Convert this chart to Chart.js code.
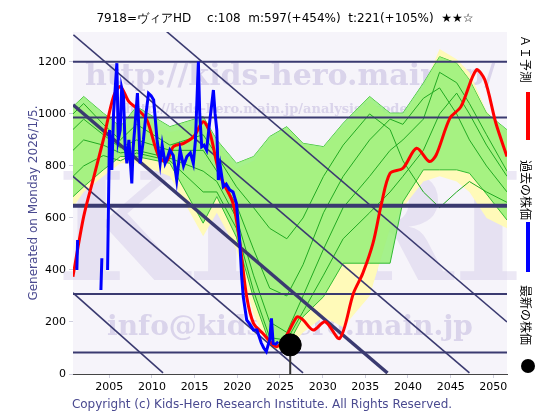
<!DOCTYPE html>
<html><head><meta charset="utf-8">
<script src="https://cdn.jsdelivr.net/npm/chart.js@4"></script>
<style>body{margin:0;background:#fff}#w{width:560px;height:420px}</style>
</head><body><div id="w"><canvas id="c"></canvas></div>
<script>
const xTicks=[2005,2010,2015,2020,2025,2030,2035,2040,2045,2050];
const yTicks=[0,200,400,600,800,1000,1200];
const pastX=[2000.82,null,2001.2,2001.29,null,2002.07,2002.1,null,2004.02,2004.13,null,2004.8,2005.03,2005.15,2005.3,2005.5,2005.89,2006.05,2006.28,2006.45,2006.67,2006.85,2007.06,2007.3,2007.64,2007.8,2008.03,2008.3,2008.62,2009.0,2009.3,2009.6,2009.9,2010.2,2010.6,2010.96,2011.2,2011.54,2011.8,2012.1,2012.5,2012.9,2013.3,2013.7,2014.1,2014.5,2014.85,2015.1,2015.44,2015.6,2015.83,2016.1,2016.4,2016.8,2017.2,2017.4,2017.6,2017.78,2018.0,2018.36,2018.7,2019.1,2019.5,2019.9,2020.3,2020.5,2020.7,2021.1,2021.5,2021.9,2022.3,2022.8,2023.1,2023.4,2023.6,2023.8,2024.0,2024.2,2024.5,2024.8];
const pastY=[310,null,400,515,null,333,333,null,323,445,null,400,938,870,785,1000,1195,900,938,1100,1067,880,810,900,733,870,964,1080,810,900,1000,1079,1070,1054,900,810,880,810,830,861,840,746,861,800,836,850,810,900,1201,1000,874,880,861,980,1092,1000,938,746,800,720,730,708,700,656,503,380,297,208,190,169,169,120,100,86,110,131,214,118,115,124];
const aiX=[2000.74,2002,2003.2,2004.3,2005.5,2006.3,2007.3,2008.2,2009.4,2010.8,2011.7,2012.5,2013.7,2014.9,2016.0,2016.8,2017.6,2018.2,2019.5,2020.3,2021.1,2021.9,2023.0,2024.6,2025.8,2027,2027.7,2028.9,2030.3,2032,2033.6,2034.7,2035.9,2036.9,2037.9,2039.4,2041,2042.5,2043.3,2044.9,2046.2,2048,2049,2050.3,2051.6];
const aiY=[374,605,759,900,1067,1105,1047,1022,977,836,817,874,887,913,970,926,810,746,656,503,297,195,156,105,150,220,208,169,201,137,310,387,503,656,772,791,868,817,842,983,1028,1169,1131,964,836];
const bandX=[2000.75,2002,2004.3,2006.3,2008.2,2012.1,2016.0,2017.6,2019.9,2021.9,2023.8,2025.8,2027.7,2030.1,2032.4,2035.5,2037.9,2039.4,2041.8,2043.7,2045.7,2047.2,2049.2,2051.6];
const greenHi=[1028,1067,1003,951,1028,951,990,900,810,836,913,951,887,874,964,1067,1003,1003,1118,1220,1195,1131,1003,939];
const greenLo=[682,720,785,836,836,810,580,682,526,292,118,105,220,297,426,426,426,662,785,785,785,772,692,592];
const yellowHi=[1010,1040,990,930,1000,930,960,880,790,820,900,940,880,870,950,1050,990,990,1100,1250,1210,1160,1010,930];
const yellowLo=[640,700,760,810,810,760,530,620,480,230,100,90,160,220,180,300,560,640,740,760,740,700,600,560];
const thinA=[1000,1040,960,900,960,880,920,840,720,640,560,520,600,760,880,1000,940,820,700,640,700,740,700,660];
const thinB=[940,980,920,870,900,860,860,780,650,480,330,300,420,620,760,900,980,960,1060,1100,1000,900,800,700];
const thinC=[860,900,880,850,860,830,780,740,600,380,200,160,300,480,640,760,860,900,980,1160,1120,1040,920,780];
const thinD=[760,800,840,820,850,820,700,700,560,320,140,130,240,380,520,620,700,760,860,1000,1080,1000,880,760];
const ballX=[2026.2], ballY=[112];
const hLines=[1201,986,647,308,83];
const diag=[[2000.8,1304,2047.2,4],[2011.5,1323,2051.6,200],[2000.75,1035,2037.6,4],[2000.75,760,2027.7,4],[2000.75,312,2011.3,4]];

const pts=(xs,ys)=>xs.map((x,i)=>({x:x,y:x===null?null:ys[i]}));
const thin=arr=>({data:pts(bandX,arr),borderColor:'#22aa22',borderWidth:1,pointRadius:0,fill:false,tension:0});
const ds=[
 {data:pts(bandX,yellowHi),borderWidth:0,pointRadius:0,fill:false},
 {data:pts(bandX,yellowLo),borderWidth:0,pointRadius:0,fill:'-1',backgroundColor:'rgb(255,250,185)'},
 {data:pts(bandX,greenHi),borderWidth:1,borderColor:'#33bb33',pointRadius:0,fill:false},
 {data:pts(bandX,greenLo),borderWidth:1,borderColor:'#33bb33',pointRadius:0,fill:'-1',backgroundColor:'rgba(150,240,120,0.85)'},
 thin(thinA),thin(thinB),thin(thinC),thin(thinD)
];
hLines.forEach((v,i)=>ds.push({data:[{x:2000.75,y:v},{x:2051.6,y:v}],borderColor:'#3a3a70',borderWidth:i==2?4:2,pointRadius:0}));
diag.forEach((d,i)=>ds.push({data:[{x:d[0],y:d[1]},{x:d[2],y:d[3]}],borderColor:'#3a3a70',borderWidth:i==2?3.5:1.6,pointRadius:0}));
ds.push({data:[{x:ballX[0],y:0},{x:ballX[0],y:ballY[0]}],borderColor:'#333',borderWidth:2,pointRadius:0});
ds.push({data:pts(aiX,aiY),borderColor:'#ff0000',borderWidth:3,pointRadius:0,tension:0.3});
ds.push({data:pts(pastX,pastY),borderColor:'#0000ff',borderWidth:3,pointRadius:0,spanGaps:false,tension:0});
ds.push({data:pts(ballX,ballY),showLine:false,pointRadius:11,backgroundColor:'#000',borderColor:'#000'});
ds.forEach((d,i)=>{d.order=ds.length-i;});

const deco={id:'deco',
 beforeDatasetsDraw(ch){const c=ch.ctx,a=ch.chartArea;c.save();
  c.fillStyle='#f6f4fa';c.fillRect(a.left,a.top,a.right-a.left,a.bottom-a.top);
  c.fillStyle='rgba(200,190,225,0.35)';c.font='bold 150px "DejaVu Serif"';c.textAlign='center';c.fillText('KHRI',(a.left+a.right)/2,280);
  c.fillStyle='rgba(190,180,220,0.5)';
  c.font='bold 30px "DejaVu Serif"';c.fillText('http://kids-hero.main.jp/',290,85);
  c.font='bold 13px "DejaVu Serif"';c.fillText('http://kids-hero.main.jp/analysis/?code=7918',290,113);
  c.font='bold 28px "DejaVu Serif"';c.fillText('info@kids-hero.main.jp',290,335);
  c.restore();},
 afterDraw(ch){const c=ch.ctx;c.save();c.fillStyle='#000';c.font='12px "DejaVu Sans"';c.textAlign='center';
  c.fillText('7918=ヴィアHD　 c:108  m:597(+454%)  t:221(+105%)  ★★☆',285,22);
  c.fillStyle='#4a4a90';c.font='12px "DejaVu Sans"';c.fillText('Copyright (c) Kids-Hero Research Institute. All Rights Reserved.',262,408);
  c.save();c.translate(37,203);c.rotate(-Math.PI/2);c.fillText('Generated on Monday 2026/1/5.',0,0);c.restore();
  c.fillStyle='#000';c.font='12px "Noto Sans CJK JP"';c.textAlign='left';
  const vt=(t,y)=>{c.save();c.translate(521,y);c.rotate(Math.PI/2);c.fillText(t,0,0);c.restore();};
  vt('ＡＩ予測',35);vt('過去の株価',160);vt('最新の株価',285);
  c.lineWidth=4;c.strokeStyle='#f00';c.beginPath();c.moveTo(528,92);c.lineTo(528,140);c.stroke();
  c.strokeStyle='#00f';c.beginPath();c.moveTo(528,222);c.lineTo(528,272);c.stroke();
  c.fillStyle='#000';c.beginPath();c.arc(528,366,7,0,7);c.fill();
  c.restore();}};

new Chart(document.getElementById('c'),{type:'line',data:{datasets:ds},plugins:[deco],
 options:{responsive:true,maintainAspectRatio:false,animation:false,events:[],
  layout:{padding:{top:32,right:53,left:0,bottom:0}},
  plugins:{legend:{display:false},tooltip:{enabled:false}},
  scales:{
   x:{type:'linear',min:2000.75,max:2051.6,afterFit:s=>{s.height=46},
      afterBuildTicks:s=>{s.ticks=xTicks.map(v=>({value:v}))},
      grid:{color:'#cfcfdf',drawTicks:true,tickLength:4},border:{color:'#444'},
      ticks:{color:'#000',font:{family:'DejaVu Sans',size:11},maxRotation:0,autoSkip:false,callback:v=>String(v)}},
   y:{min:0,max:1315,afterFit:s=>{s.width=73},
      afterBuildTicks:s=>{s.ticks=yTicks.map(v=>({value:v}))},
      grid:{color:'#cfcfdf',tickLength:4},border:{color:'#444'},
      ticks:{color:'#000',font:{family:'DejaVu Sans',size:11},callback:v=>String(v)}}
  }}});
</script></body></html>
